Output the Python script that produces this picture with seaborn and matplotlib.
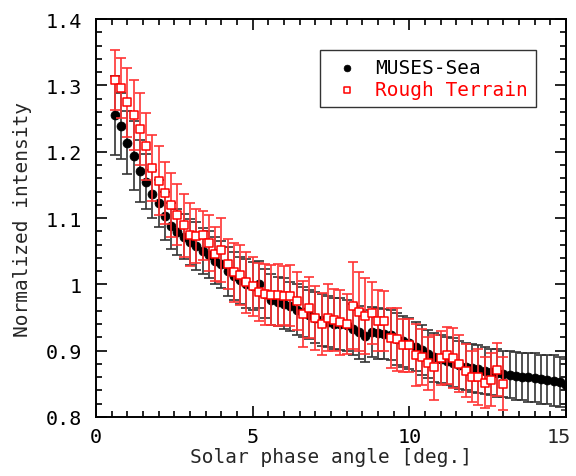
import matplotlib
matplotlib.use("Agg")
import matplotlib.pyplot as plt
import matplotlib.transforms as mtransforms
import seaborn as sns
import pandas as pd
from matplotlib.ticker import MultipleLocator

sns.set_style("ticks")
plt.rcParams["font.family"] = ["DejaVu Sans Mono", "DejaVu Sans"]

# solar phase angle grid [deg.]
sea_angle = [0.6, 0.8, 1.0, 1.2, 1.4, 1.6, 1.8, 2.0, 2.2, 2.4,
             2.6, 2.8, 3.0, 3.2, 3.4, 3.6, 3.8, 4.0, 4.2, 4.4,
             4.6, 4.8, 5.0, 5.2, 5.4, 5.6, 5.8, 6.0, 6.2, 6.4,
             6.6, 6.8, 7.0, 7.2, 7.4, 7.6, 7.8, 8.0, 8.2, 8.4,
             8.6, 8.8, 9.0, 9.2, 9.4, 9.6, 9.8, 10.0, 10.2, 10.4,
             10.6, 10.8, 11.0, 11.2, 11.4, 11.6, 11.8, 12.0, 12.2, 12.4,
             12.6, 12.8, 13.0, 13.2, 13.4, 13.6, 13.8, 14.0, 14.2, 14.4,
             14.6, 14.8, 15.0]
sea_int = [1.255, 1.239, 1.214, 1.194, 1.171, 1.155, 1.136, 1.122, 1.103, 1.088,
           1.079, 1.072, 1.064, 1.058, 1.050, 1.045, 1.036, 1.030, 1.020, 1.013,
           1.006, 1.001, 0.998, 1.000, 0.986, 0.977, 0.974, 0.971, 0.967, 0.962,
           0.958, 0.954, 0.950, 0.946, 0.944, 0.941, 0.940, 0.938, 0.932, 0.928,
           0.922, 0.928, 0.926, 0.925, 0.924, 0.918, 0.914, 0.911, 0.906, 0.901,
           0.895, 0.890, 0.887, 0.884, 0.882, 0.878, 0.876, 0.874, 0.872, 0.870,
           0.868, 0.866, 0.865, 0.864, 0.862, 0.861, 0.860, 0.859, 0.857, 0.856,
           0.855, 0.853, 0.849]
sea_err = [0.060, 0.050, 0.048, 0.052, 0.047, 0.041, 0.036, 0.035, 0.036, 0.035,
           0.035, 0.034, 0.035, 0.036, 0.035, 0.036, 0.036, 0.035, 0.037, 0.036,
           0.036, 0.037, 0.036, 0.036, 0.037, 0.038, 0.037, 0.038, 0.037, 0.038,
           0.038, 0.037, 0.038, 0.039, 0.038, 0.038, 0.039, 0.038, 0.039, 0.040,
           0.039, 0.038, 0.039, 0.038, 0.038, 0.039, 0.038, 0.038, 0.037, 0.037,
           0.036, 0.037, 0.036, 0.036, 0.037, 0.036, 0.036, 0.036, 0.036, 0.035,
           0.035, 0.036, 0.035, 0.036, 0.036, 0.036, 0.037, 0.037, 0.037, 0.037,
           0.038, 0.038, 0.038]

rough_angle = sea_angle[:63]
rough_int = [1.308, 1.296, 1.275, 1.255, 1.234, 1.208, 1.176, 1.156, 1.138, 1.120,
             1.105, 1.089, 1.075, 1.073, 1.074, 1.062, 1.046, 1.052, 1.031, 1.018,
             1.014, 1.003, 0.997, 0.989, 0.985, 0.984, 0.984, 0.983, 0.983, 0.975,
             0.955, 0.965, 0.949, 0.940, 0.950, 0.946, 0.943, 0.940, 0.968, 0.959,
             0.952, 0.957, 0.945, 0.945, 0.919, 0.917, 0.908, 0.908, 0.893, 0.891,
             0.881, 0.875, 0.889, 0.893, 0.889, 0.880, 0.870, 0.861, 0.860, 0.852,
             0.856, 0.871, 0.850]
rough_err = [0.045, 0.045, 0.052, 0.053, 0.054, 0.051, 0.050, 0.052, 0.047, 0.048,
             0.046, 0.047, 0.047, 0.040, 0.037, 0.042, 0.041, 0.048, 0.038, 0.044,
             0.045, 0.046, 0.045, 0.044, 0.046, 0.045, 0.047, 0.045, 0.046, 0.044,
             0.050, 0.046, 0.048, 0.047, 0.050, 0.047, 0.049, 0.045, 0.066, 0.059,
             0.057, 0.047, 0.046, 0.045, 0.045, 0.048, 0.040, 0.040, 0.047, 0.042,
             0.040, 0.049, 0.041, 0.043, 0.045, 0.043, 0.040, 0.039, 0.042, 0.039,
             0.040, 0.040, 0.040]

x_ticks = [0, 5, 10, 15]
x_ticklabels = ["0", "5", "10", "15"]
y_ticks = [0.8, 0.9, 1.0, 1.1, 1.2, 1.3, 1.4]
y_ticklabels = ["0.8", "0.9", "1", "1.1", "1.2", "1.3", "1.4"]

df = pd.concat([
    pd.DataFrame({"angle": sea_angle, "intensity": sea_int, "err": sea_err, "site": "MUSES-Sea"}),
    pd.DataFrame({"angle": rough_angle, "intensity": rough_int, "err": rough_err, "site": "Rough Terrain"}),
], ignore_index=True)

fig = plt.figure(figsize=(5.76, 4.77), dpi=100)
ax = fig.add_axes([0.1667, 0.1237, 0.816, 0.834])

sea = df[df.site == "MUSES-Sea"]
rough = df[df.site == "Rough Terrain"]

ax.errorbar(sea.angle, sea.intensity, yerr=sea.err, fmt="none", ecolor="#333333",
            elinewidth=1.2, capsize=3.5, capthick=1.2, zorder=1)
sns.scatterplot(data=sea, x="angle", y="intensity", ax=ax, color="black", marker="o",
                s=42, edgecolor="black", linewidth=0.5, label="MUSES-Sea", zorder=2)
ax.errorbar(rough.angle, rough.intensity, yerr=rough.err, fmt="none", ecolor="#ff3333",
            elinewidth=1.2, capsize=3.5, capthick=1.2, zorder=3)
sns.scatterplot(data=rough, x="angle", y="intensity", ax=ax, color="white", marker="s",
                s=40, edgecolor="red", linewidth=1.1, label="Rough Terrain", zorder=4)

ax.set_xlim(0, 15)
ax.set_ylim(0.8, 1.4)
ax.xaxis.set_minor_locator(MultipleLocator(0.5))
ax.yaxis.set_minor_locator(MultipleLocator(0.02))
ax.set_xticks(x_ticks)
# last label is drawn separately, shifted slightly left so it stays on the canvas
ax.set_xticklabels(x_ticklabels[:-1] + [""])
ax.set_yticks(y_ticks)
ax.set_yticklabels(y_ticklabels)
ax.tick_params(which="both", direction="in", top=True, right=True, colors="black",
               labelsize=14.5, width=1.2)
ax.tick_params(which="major", length=8)
ax.tick_params(which="minor", length=4)
ax.tick_params(axis="y", which="major", pad=10)
ax.tick_params(axis="x", which="major", pad=7)
for sp in ax.spines.values():
    sp.set_linewidth(1.4)
    sp.set_color("black")

shift = mtransforms.ScaledTranslation(-5 / 72, -7 / 72, fig.dpi_scale_trans)
ax.text(x_ticks[-1], 0, x_ticklabels[-1], fontsize=14.5, ha="center", va="top",
        transform=ax.get_xaxis_transform() + shift)

ax.set_xlabel("Solar phase angle [deg.]", fontsize=14, labelpad=1)
ax.set_ylabel("Normalized intensity", fontsize=14, labelpad=10)

leg = ax.legend(loc="upper right", bbox_to_anchor=(0.936, 0.922), fontsize=14,
                frameon=True, fancybox=False, edgecolor="black", markerscale=0.75,
                handletextpad=0.45, borderpad=0.4, labelspacing=0.15, handlelength=2.0,
                borderaxespad=0)
leg.get_frame().set_linewidth(1.0)
for txt, col in zip(leg.get_texts(), ["black", "red"]):
    txt.set_color(col)

fig.savefig("out.png", dpi=100)
